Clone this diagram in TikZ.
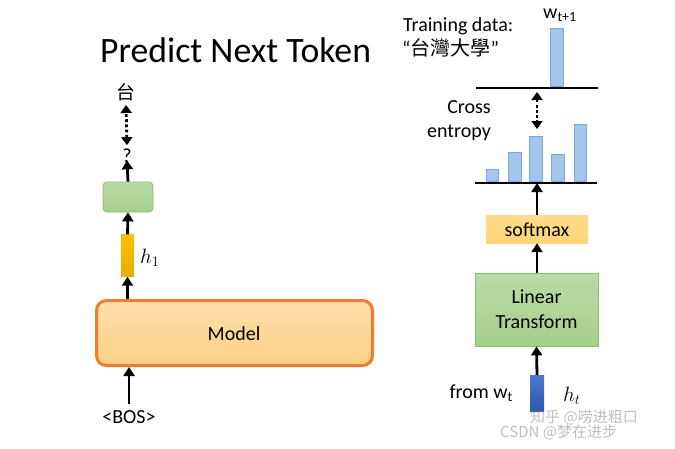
\documentclass[tikz,border=0pt]{standalone}
\usepackage{fontspec}
\setmainfont{Carlito}
\newfontfamily\cjk{Noto Sans CJK TC}
\newfontfamily\cjksc{Noto Sans CJK SC}
\usetikzlibrary{arrows.meta}
\definecolor{modelfillA}{HTML}{FEE0AA}
\definecolor{modelfillB}{HTML}{FCCF86}
\definecolor{modelborder}{HTML}{ED7D31}
\definecolor{greenA}{HTML}{B9DBA5}
\definecolor{greenB}{HTML}{A6CF8C}
\definecolor{greenborder}{HTML}{8DBB72}
\definecolor{softA}{HTML}{FFDC8C}
\definecolor{softB}{HTML}{FDD478}
\definecolor{goldA}{HTML}{FFC000}
\definecolor{goldB}{HTML}{E8AE00}
\definecolor{barblue}{HTML}{A4C5EA}
\definecolor{barblueborder}{HTML}{7FA7D8}
\definecolor{deepblueA}{HTML}{4A78CF}
\definecolor{deepblueB}{HTML}{2F58B0}
\begin{document}
\begin{tikzpicture}[x=1pt,y=-1pt,
  arr/.style={line width=2.8pt,-{Triangle[length=9pt,width=11pt]}},
  darr/.style={line width=2.8pt,dash pattern=on 2.8pt off 2.4pt,
    {Triangle[length=8pt,width=11pt]}-{Triangle[length=8pt,width=11pt]}},
  txt/.style={font=\fontsize{20}{25}\selectfont,inner sep=0pt},
  hline/.style={line width=2.6pt},
  bar/.style={fill=barblue,draw=barblueborder,line width=0.8pt,inner sep=0pt,minimum width=12.5pt,anchor=south},
  greenbox/.style={top color=greenA,bottom color=greenB,draw=greenborder,line width=0.8pt,inner sep=0pt},
  wm/.style={text=gray,opacity=0.5,inner sep=0pt,font=\cjksc\fontsize{15}{18}\selectfont},
]
\useasboundingbox[fill=white] (0,0) rectangle (675,448);

% ---------- left: Predict Next Token ----------
\node[inner sep=0pt,anchor=base west,font=\fontsize{35.7}{40}\selectfont] (title) at (100,62) {Predict Next Token};

\node[rounded corners=10pt,top color=modelfillA,bottom color=modelfillB,draw=modelborder,line width=3pt,
      minimum width=276pt,minimum height=65pt,inner sep=0pt] (model) at (234.5,333) {};
\node[txt,anchor=base] (modeltxt) at (234,340) {Model};

\node[txt,anchor=base] (bos) at (129,423) {<BOS>};
\node[inner sep=0pt,top color=goldA,bottom color=goldB,minimum width=13pt,minimum height=42pt] (h1bar) at (127.5,255.5) {};
\node[inner sep=0pt,anchor=base west,font=\fontsize{20}{24}\selectfont] (h1) at (140,263) {$h_1$};
\node[greenbox,rounded corners=4pt,minimum width=50pt,minimum height=30pt] (head) at (128,197) {};
\node[txt,anchor=base] (q) at (127,162) {?};
\node[inner sep=0pt,font=\cjk\fontsize{19}{22}\selectfont] (tai) at (126,92) {台};

\coordinate (bosTop) at (129,404);
\draw[arr] (bosTop) -- (bosTop |- model.south);
\draw[arr] (model.north -| h1bar.south) -- (h1bar.south);
\draw[arr] (h1bar.north) -- (head.south);
\draw[arr] (head.north) -- ([yshift=2pt]q.south);
\draw[darr] ([yshift=3pt]q.north) -- ([yshift=-4pt]tai.south);

% ---------- right ----------
\node[txt,anchor=base west] (train) at (403,31) {Training data:};
\node[inner sep=0pt,anchor=west,font=\fontsize{20}{25}\selectfont] (word) at (402,48) {“{\cjk 台灣大學}”};
\node[txt,anchor=base west] (wt1) at (543,18) {w\textsubscript{t+1}};

\coordinate (l1a) at (476,88);
\coordinate (l1b) at (598,88);
\coordinate (l2a) at (475,183);
\coordinate (l2b) at (597,183);

\node[bar,minimum height=58pt] (tbar) at (557,86.7) {};
\draw[hline] (l1a) -- (l1b);

\node[bar,minimum height=11.7pt] (b1) at (492.5,181.7) {};
\node[bar,minimum height=28.7pt] (b2) at (515,181.7) {};
\node[bar,minimum height=44.7pt] (b3) at (536,181.7) {};
\node[bar,minimum height=26.7pt] (b4) at (558,181.7) {};
\node[bar,minimum height=56.7pt] (b5) at (580.5,181.7) {};
\draw[hline] (l2a) -- (l2b);

\coordinate (ceTop) at (537,92);
\coordinate (ceBot) at (537,129);
\draw[darr] (ceTop) -- (ceBot);

\node[txt,anchor=base east] (cross) at (491,113) {Cross};
\node[txt,anchor=base east] (entropy) at (491,137) {entropy};

\node[inner sep=0pt,top color=softA,bottom color=softB,minimum width=102pt,minimum height=28pt] (softmax) at (537,229) {};
\node[txt,anchor=base] (softtxt) at (537,236.5) {softmax};

\node[greenbox,minimum width=123pt,minimum height=73pt] (lt) at (536.5,309.5) {};
\node[txt,anchor=base] (lt1) at (536.5,303) {Linear};
\node[txt,anchor=base] (lt2) at (536.5,328) {Transform};

\node[inner sep=0pt,top color=deepblueA,bottom color=deepblueB,minimum width=14pt,minimum height=36pt] (htbar) at (537,393) {};
\node[txt,anchor=base east] (from) at (513,398) {from w\textsubscript{t}};
\node[inner sep=0pt,anchor=base west,font=\fontsize{20}{24}\selectfont] (ht) at (563,401) {$h_t$};

\draw[arr] (htbar.north) -- (lt.south);
\draw[arr] (lt.north -| softmax.south) -- (softmax.south);
\draw[arr] (softmax.north) -- (softmax.north |- l2a);

% watermark
\node[wm,anchor=west] (wm1) at (530,417) {知乎 @唠进粗口};
\node[wm,anchor=west] (wm2) at (500,432) {CSDN @梦在进步};
\end{tikzpicture}
\end{document}
